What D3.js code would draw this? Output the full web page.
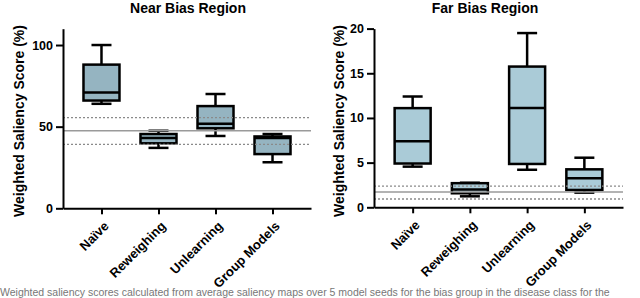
<!DOCTYPE html>
<html>
<head>
<meta charset="utf-8">
<script src="https://cdn.jsdelivr.net/npm/d3@7"></script>
<style>
  body { margin: 0; background: #fff; }
  svg { display: block; font-family: "Liberation Sans", Arial, sans-serif; }
</style>
</head>
<body>
<div class="canvas"></div>
<script>
// data: [min, q1, median, q3, max]
const categories = ['Naïve', 'Reweighing', 'Unlearning', 'Group Models'];
const nearBoxes = [
    [64, 66, 71, 88, 100],
    [37, 39.8, 43, 45.5, 47.5],
    [44.3, 49, 51.8, 62.6, 70],
    [28.2, 33.2, 43, 44, 45.5]
];
const farBoxes = [
    [4.55, 4.9, 7.4, 11.1, 12.4],
    [1.23, 1.57, 2.0, 2.7, 2.75],
    [4.2, 4.85, 11.1, 15.75, 19.5],
    [1.64, 1.94, 3.25, 4.25, 5.55]
];
// reference band: lower dotted, solid mean, upper dotted
const nearRef = [39.2, 47.5, 55.5];
const farRef = [0.93, 1.71, 2.38];
const nearTicks = [0, 50, 100];
const farTicks = [0, 5, 10, 15, 20];
const caption = 'Weighted saliency scores calculated from average saliency maps over 5 model seeds for the bias group in the disease class for the';

const svg = d3.select('.canvas')
    .append('svg')
    .attr('width', 640)
    .attr('height', 298);

function drawPanel(opt) {
    const x = d3.scalePoint()
        .domain(categories)
        .range([opt.left, opt.right])
        .padding(0.675);

    const y = d3.scaleLinear()
        .domain([0, opt.max])
        .range([opt.bottom, opt.top]);

    const g = svg.append('g');

    // title
    g.append('text')
        .attr('x', opt.titleX)
        .attr('y', 13)
        .attr('text-anchor', 'middle')
        .attr('font-size', 14)
        .attr('font-weight', 'bold')
        .text(opt.title);

    // y label
    g.append('text')
        .attr('transform', `translate(${opt.labelX}, 121) rotate(-90)`)
        .attr('text-anchor', 'middle')
        .attr('font-size', 14)
        .attr('font-weight', 'bold')
        .text('Weighted Saliency Score (%)');

    const bw = 36, cw = 20;
    const boxes = g.selectAll('g.box')
        .data(opt.data)
        .enter()
        .append('g')
        .attr('class', 'box')
        .attr('transform', (d, i) => `translate(${x(categories[i])}, 0)`);

    boxes.append('line')
        .attr('x1', 0).attr('x2', 0)
        .attr('y1', d => y(d[0])).attr('y2', d => y(d[4]))
        .attr('stroke', '#000').attr('stroke-width', 2.5);
    boxes.append('line')
        .attr('x1', -cw / 2).attr('x2', cw / 2)
        .attr('y1', d => y(d[0])).attr('y2', d => y(d[0]))
        .attr('stroke', '#000').attr('stroke-width', 2.5);
    boxes.append('line')
        .attr('x1', -cw / 2).attr('x2', cw / 2)
        .attr('y1', d => y(d[4])).attr('y2', d => y(d[4]))
        .attr('stroke', '#000').attr('stroke-width', 2.5);
    boxes.append('rect')
        .attr('x', -bw / 2)
        .attr('width', bw)
        .attr('y', d => y(d[3]))
        .attr('height', d => y(d[1]) - y(d[3]))
        .attr('fill', opt.fill)
        .attr('stroke', '#000')
        .attr('stroke-width', 2.5);
    boxes.append('line')
        .attr('x1', -bw / 2).attr('x2', bw / 2)
        .attr('y1', d => y(d[2])).attr('y2', d => y(d[2]))
        .attr('stroke', '#000').attr('stroke-width', 2.5);

    // reference lines over the boxes
    g.selectAll('line.ref')
        .data(opt.ref)
        .enter()
        .append('line')
        .attr('class', 'ref')
        .attr('x1', opt.left).attr('x2', opt.right)
        .attr('y1', d => y(d)).attr('y2', d => y(d))
        .attr('stroke', (d, i) => i === 1 ? '#9a9a9a' : '#8a8a8a')
        .attr('stroke-width', (d, i) => i === 1 ? 1.6 : 1.3)
        .attr('stroke-dasharray', (d, i) => i === 1 ? null : '2,2');

    // axes
    const yAxis = d3.axisLeft(y)
        .tickValues(opt.ticks)
        .tickSize(7)
        .tickSizeOuter(0)
        .tickPadding(3);
    const yg = g.append('g')
        .attr('transform', `translate(${opt.left}, 0)`)
        .call(yAxis);
    yg.select('.domain').attr('stroke-width', 2);
    yg.selectAll('.tick line').attr('stroke-width', 2);
    yg.selectAll('text')
        .attr('font-size', 12.5)
        .attr('font-weight', 'bold')
        .attr('font-family', '"Liberation Sans", Arial, sans-serif')
        .attr('fill', '#000');

    const xAxis = d3.axisBottom(x)
        .tickSize(6)
        .tickSizeOuter(0);
    const xg = g.append('g')
        .attr('transform', `translate(0, ${opt.bottom})`)
        .call(xAxis);
    xg.select('.domain').attr('stroke-width', 2);
    xg.selectAll('.tick line').attr('stroke-width', 2);
    xg.selectAll('text')
        .attr('font-size', 13)
        .attr('font-weight', 'bold')
        .attr('font-family', '"Liberation Sans", Arial, sans-serif')
        .attr('fill', '#000')
        .attr('text-anchor', 'end')
        .attr('dy', '0.35em')
        .attr('transform', 'translate(-2, 9) rotate(-45)');
}

drawPanel({
    title: 'Near Bias Region', titleX: 188, labelX: 24,
    left: 63, right: 311, top: 28.7, bottom: 208.3, max: 110,
    ticks: nearTicks, data: nearBoxes, ref: nearRef, fill: '#95b4c1'
});

drawPanel({
    title: 'Far Bias Region', titleX: 485, labelX: 344,
    left: 374, right: 623, top: 28.6, bottom: 207.3, max: 20,
    ticks: farTicks, data: farBoxes, ref: farRef, fill: '#aacbd7'
});

svg.append('text')
    .attr('x', 0)
    .attr('y', 296)
    .attr('font-size', 10.5)
    .attr('fill', '#777')
    .text(caption);
</script>
</body>
</html>
